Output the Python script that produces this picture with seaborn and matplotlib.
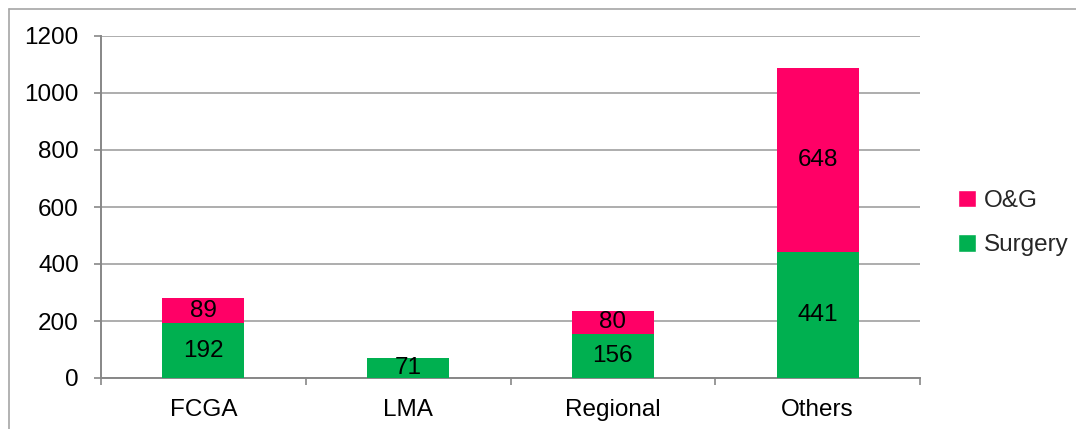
import matplotlib
matplotlib.use("Agg")
import matplotlib.pyplot as plt
from matplotlib.lines import Line2D
from matplotlib.patches import Patch
import seaborn as sns
import pandas as pd

# Cases by anaesthesia type, split by specialty
categories = ["FCGA", "LMA", "Regional", "Others"]
surgery = [192, 71, 156, 441]
obs_gyn = [89, 0, 80, 648]
yticks = [0, 200, 400, 600, 800, 1000, 1200]

GREEN = "#00B050"
PINK = "#FF0066"

sns.set_theme(style="white")
plt.rcParams["font.family"] = ["Liberation Sans", "DejaVu Sans"]

df = pd.DataFrame({"category": categories, "Surgery": surgery, "O&G": obs_gyn})
df["total"] = df["Surgery"] + df["O&G"]

fig = plt.figure(figsize=(10.76, 4.29), dpi=100)
ax = fig.add_axes([101 / 1076, 1 - 378 / 429, 819 / 1076, 342 / 429])

# stacked bars: full total in pink, surgery share drawn over it in green
sns.barplot(data=df, x="category", y="total", order=categories, color=PINK,
            saturation=1, width=0.4, ax=ax, zorder=3, linewidth=0)
sns.barplot(data=df, x="category", y="Surgery", order=categories, color=GREEN,
            saturation=1, width=0.4, ax=ax, zorder=3, linewidth=0)

fs = 17.5
for i, (s, o) in enumerate(zip(surgery, obs_gyn)):
    if s:
        ax.text(i, s / 2, str(s), ha="center", va="center", fontsize=fs,
                color="black", zorder=4)
    if o:
        ax.text(i, s + o / 2, str(o), ha="center", va="center", fontsize=fs,
                color="black", zorder=4)

ax.set_xlim(-0.5, len(categories) - 0.5)
ax.set_ylim(0, 1200)
ax.set_yticks(yticks)
ax.set_yticklabels([str(v) for v in yticks])
ax.set_xlabel("")
ax.set_ylabel("")

# category labels centred, ticks on the category boundaries
ax.set_xticks(range(len(categories)))
ax.set_xticklabels(categories)
ax.set_xticks([i - 0.5 for i in range(len(categories) + 1)], minor=True)
ax.tick_params(axis="x", which="major", length=0, pad=15, labelsize=fs,
               labelcolor="black")
ax.tick_params(axis="x", which="minor", length=5, width=1.2, color="#878787",
               direction="out", bottom=True)
ax.tick_params(axis="y", which="major", length=5, width=1.2, color="#878787",
               direction="out", left=True, pad=11, labelsize=fs,
               labelcolor="black")

ax.yaxis.grid(True, color="#A0A0A0", linewidth=1.2, zorder=0)
ax.xaxis.grid(False)
ax.set_axisbelow(True)
for side in ("top", "right"):
    ax.spines[side].set_visible(False)
for side in ("left", "bottom"):
    ax.spines[side].set_color("#878787")
    ax.spines[side].set_linewidth(1.4)

handles = [Patch(facecolor=PINK, label="O&G"), Patch(facecolor=GREEN, label="Surgery")]
fig.legend(handles=handles, loc="center left", bbox_to_anchor=(958 / 1076, 1 - 223 / 429),
           frameon=False, fontsize=fs, handlelength=0.75, handleheight=0.75,
           handletextpad=0.3, labelspacing=0.9, borderaxespad=0, borderpad=0)

# thin frame along the top and left edges of the chart area
fig.add_artist(Line2D([8.5 / 1076, 1.0], [1 - 8.5 / 429, 1 - 8.5 / 429],
                      transform=fig.transFigure, color="#A6A6A6", linewidth=1.2))
fig.add_artist(Line2D([8.5 / 1076, 8.5 / 1076], [0, 1 - 8.5 / 429],
                      transform=fig.transFigure, color="#A6A6A6", linewidth=1.2))

fig.savefig("out.png", dpi=100)
